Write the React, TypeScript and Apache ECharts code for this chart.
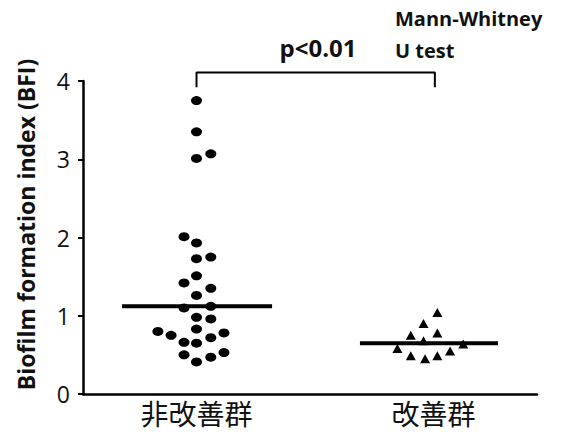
import React, { useEffect, useRef } from "react";
import * as echarts from "echarts";

const categories = ["非改善群", "改善群"];
const yTicks = [0, 1, 2, 3, 4];

// Group 1 (非改善群): x jitter offsets (category units) and BFI values
const group1Jitter = [0, 0, 0, 0.063, -0.055, 0, 0, 0.063, 0, -0.055, 0.063, 0, -0.055, 0.063, 0, 0.063, -0.17, -0.112, 0, -0.055, 0, 0.063, 0.121, -0.055, 0, 0.063, 0.121];
const group1Values = [3.75, 3.35, 3.01, 3.07, 2.01, 1.93, 1.73, 1.75, 1.51, 1.42, 1.35, 1.26, 1.10, 1.12, 0.98, 0.96, 0.80, 0.75, 0.83, 0.66, 0.65, 0.72, 0.78, 0.50, 0.41, 0.47, 0.53];
const group1Median = 1.12;

// Group 2 (改善群)
const group2Jitter = [0.061, 0, 0.061, -0.056, 0, -0.115, 0.175, 0.117, -0.056, 0.061, 0.007];
const group2Values = [1.04, 0.90, 0.78, 0.75, 0.68, 0.58, 0.64, 0.55, 0.49, 0.49, 0.45];
const group2Median = 0.65;

const pText = "p<0.01";
const testText = ["Mann-Whitney", "U test"];

export default function App() {
  const ref = useRef<HTMLDivElement>(null);
  useEffect(() => {
    document.body.style.margin = "0";
    if (!ref.current) return;
    const chart = echarts.init(ref.current, null, { renderer: "svg" });
    const font = "'Open Sans', 'Noto Sans', sans-serif";
    const g1 = group1Values.map((v, i) => [1 + group1Jitter[i], v]);
    const g2 = group2Values.map((v, i) => [2 + group2Jitter[i], v]);
    chart.setOption({
      animation: false,
      backgroundColor: "#ffffff",
      grid: { left: 83, width: 454, top: 81, bottom: 38 },
      xAxis: [
        {
          type: "category",
          data: [
            { value: categories[0] },
            { value: categories[1], textStyle: { padding: [0, 0, 0, 20] } },
          ],
          axisLine: { lineStyle: { color: "#000", width: 2.5 } },
          axisTick: { alignWithLabel: true, length: 4, lineStyle: { color: "#000", width: 2 } },
          axisLabel: { color: "#111", fontSize: 28, margin: 5, fontFamily: "'Noto Sans CJK JP', sans-serif" },
        },
        { type: "value", min: 0.5, max: 2.5, show: false },
      ],
      yAxis: {
        type: "value",
        min: 0,
        max: 4,
        interval: 1,
        name: "Biofilm formation index (BFI)",
        nameLocation: "middle",
        nameGap: 46,
        nameTextStyle: { color: "#111", fontSize: 23, fontWeight: "bold", fontFamily: font, padding: [0, 0, 0, 26] },
        axisLine: { show: true, lineStyle: { color: "#000", width: 2.5 } },
        axisTick: { show: true, length: 5, lineStyle: { color: "#000", width: 2 } },
        axisLabel: {
          color: "#111",
          fontSize: 23,
          margin: 13,
          fontFamily: font,
          formatter: (v: number) => (yTicks.includes(v) ? String(v) : ""),
        },
        splitLine: { show: false },
      },
      series: [
        {
          type: "scatter",
          xAxisIndex: 1,
          data: g1,
          symbol: "circle",
          symbolSize: [11, 9],
          itemStyle: { color: "#000", opacity: 1 },
        },
        {
          type: "scatter",
          xAxisIndex: 1,
          data: g2,
          symbol: "triangle",
          symbolSize: [10, 9],
          itemStyle: { color: "#000", opacity: 1 },
        },
        {
          type: "line",
          xAxisIndex: 1,
          data: [[0.672, group1Median], [1.333, group1Median]],
          symbol: "none",
          lineStyle: { color: "#000", width: 4 },
          z: 1,
        },
        {
          type: "line",
          xAxisIndex: 1,
          data: [[1.72, group2Median], [2.328, group2Median]],
          symbol: "none",
          lineStyle: { color: "#000", width: 4 },
          z: 1,
        },
        {
          type: "line",
          xAxisIndex: 1,
          clip: false,
          data: [[1.0, 3.92], [1.0, 4.11], [2.05, 4.11], [2.05, 3.92]],
          symbol: "none",
          lineStyle: { color: "#000", width: 2 },
        },
      ],
      graphic: [
        {
          type: "text",
          x: 318,
          y: 47,
          style: { text: pText, fill: "#111", font: `bold 24px ${font}`, textAlign: "center", textVerticalAlign: "middle" },
        },
        {
          type: "text",
          x: 395,
          y: 18,
          style: { text: testText[0], fill: "#111", font: `bold 20px ${font}`, textAlign: "left", textVerticalAlign: "middle" },
        },
        {
          type: "text",
          x: 395,
          y: 50,
          style: { text: testText[1], fill: "#111", font: `bold 20px ${font}`, textAlign: "left", textVerticalAlign: "middle" },
        },
      ],
    });
    return () => chart.dispose();
  }, []);
  return <div ref={ref} style={{ width: 561, height: 432 }} />;
}
